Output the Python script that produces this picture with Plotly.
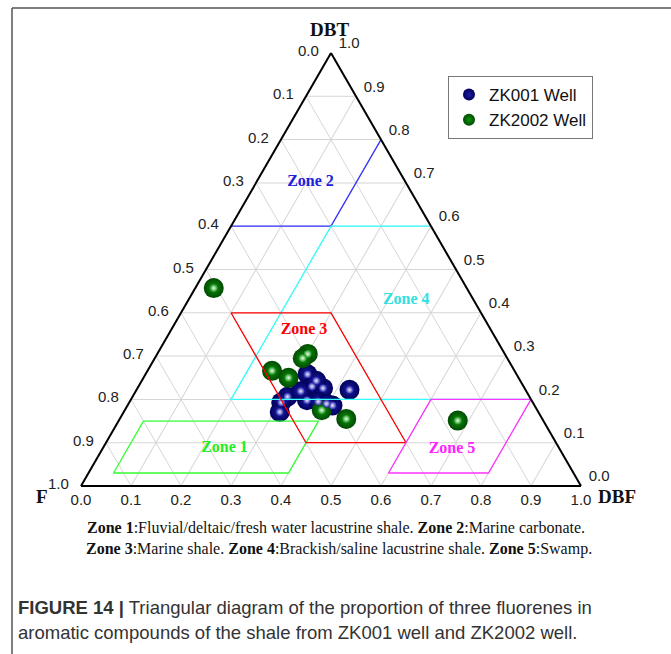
import plotly.graph_objects as go

# ---------------- data (fractions: DBT, F, DBF) ----------------
zk001_dbt = [0.258, 0.230, 0.226, 0.222, 0.206, 0.193, 0.198, 0.195, 0.186, 0.171, 0.190, 0.219, 0.243]
zk001_f   = [0.418, 0.423, 0.403, 0.352, 0.484, 0.503, 0.449, 0.428, 0.404, 0.517, 0.414, 0.451, 0.408]
zk001_dbf = [0.324, 0.347, 0.371, 0.426, 0.310, 0.304, 0.353, 0.377, 0.410, 0.312, 0.396, 0.330, 0.349]

zk2002_dbt = [0.457, 0.305, 0.295, 0.266, 0.250, 0.175, 0.155, 0.151]
zk2002_f   = [0.506, 0.394, 0.409, 0.485, 0.460, 0.431, 0.392, 0.171]
zk2002_dbf = [0.037, 0.301, 0.296, 0.249, 0.290, 0.394, 0.453, 0.678]

# zone boundaries (DBT, DBF; F = 1 - DBT - DBF)
zone1_dbt = [0.15, 0.15, 0.03, 0.03, 0.15]
zone1_dbf = [0.05, 0.40, 0.40, 0.05, 0.05]
zone2_dbt = [0.6, 0.6, 0.8]
zone2_dbf = [0.0, 0.2, 0.2]
zone3_dbt = [0.4, 0.4, 0.1, 0.1, 0.4]
zone3_dbf = [0.1, 0.3, 0.6, 0.4, 0.1]
zone4a_dbt = [0.6, 0.6]
zone4a_dbf = [0.4, 0.2]
zone4b_dbt = [0.6, 0.2, 0.2]
zone4b_dbf = [0.2, 0.2, 0.8]
zone5_dbt = [0.2, 0.2, 0.03, 0.03, 0.2]
zone5_dbf = [0.6, 0.8, 0.8, 0.6, 0.6]

zone_names = ["Zone 1", "Zone 2", "Zone 3", "Zone 4", "Zone 5"]
zone_label_dbt = [0.088, 0.702, 0.360, 0.429, 0.086]
zone_label_dbf = [0.243, 0.108, 0.266, 0.436, 0.699]

tick_vals = [i / 10 for i in range(11)]
tick_text = ["%.1f" % v for v in tick_vals]
tick_text_rev = tick_text[::-1]

# ---------------- figure ----------------
W, H = 671, 654
def px(x): return x / W
def py(y): return 1 - y / H

def fcomp(dbt, dbf):
    return [round(1 - a - c, 4) for a, c in zip(dbt, dbf)]

fig = go.Figure()

# wells (spheres: base + highlight)
fig.add_trace(go.Scatterternary(
    a=zk001_dbt, b=zk001_f, c=zk001_dbf, mode="markers", name="ZK001 Well",
    marker=dict(size=20, color="#00005a", gradient=dict(type="radial", color="#1e1eaa"),
                line=dict(width=0))))
fig.add_trace(go.Scatterternary(
    a=zk2002_dbt, b=zk2002_f, c=zk2002_dbf, mode="markers", name="ZK2002 Well",
    marker=dict(size=20, color="#004a00", gradient=dict(type="radial", color="#0f920f"),
                line=dict(width=0))))
fig.add_trace(go.Scatterternary(
    a=zk001_dbt, b=zk001_f, c=zk001_dbf, mode="markers", showlegend=False, hoverinfo="skip",
    marker=dict(size=8, color="#1e1eaa", gradient=dict(type="radial", color="#f0f0ff"),
                line=dict(width=0))))
fig.add_trace(go.Scatterternary(
    a=zk2002_dbt, b=zk2002_f, c=zk2002_dbf, mode="markers", showlegend=False, hoverinfo="skip",
    marker=dict(size=8, color="#0f920f", gradient=dict(type="radial", color="#f0fff0"),
                line=dict(width=0))))

# zones
zones = [
    (zone1_dbt, zone1_dbf, "#33ff33"),
    (zone2_dbt, zone2_dbf, "#3333ff"),
    (zone4a_dbt, zone4a_dbf, "#33ffff"),
    (zone4b_dbt, zone4b_dbf, "#33ffff"),
    (zone3_dbt, zone3_dbf, "#ff0000"),
    (zone5_dbt, zone5_dbf, "#ff33ff"),
]
for dbt, dbf, col in zones:
    fig.add_trace(go.Scatterternary(
        a=dbt, b=fcomp(dbt, dbf), c=dbf, mode="lines", showlegend=False, hoverinfo="skip",
        line=dict(color=col, width=1.3)))

label_colors = ["#22ee22", "#2020dd", "#ff0000", "#33e0e0", "#ff22ff"]
for name, a, c, col in zip(zone_names, zone_label_dbt, zone_label_dbf, label_colors):
    fig.add_trace(go.Scatterternary(
        a=[a], b=fcomp([a], [c]), c=[c], mode="text", text=["<b>%s</b>" % name],
        showlegend=False, hoverinfo="skip",
        textfont=dict(family="Liberation Serif", size=16, color=col)))

axis_common = dict(
    tickmode="array", tickvals=tick_vals, ticks="outside", ticklen=9,
    tickcolor="rgba(0,0,0,0)", showline=True, linecolor="black",
    linewidth=2, showgrid=True, gridcolor="#d6d6d6", gridwidth=1,
    tickfont=dict(family="Liberation Sans", size=15, color="#222"), title=dict(text=""),
)
b_axis = dict(axis_common, ticks="", ticklen=0)

fig.update_layout(
    width=W, height=H, margin=dict(l=0, r=0, t=0, b=0),
    paper_bgcolor="white", plot_bgcolor="white",
    ternary=dict(
        domain=dict(x=[px(81), px(581)], y=[py(486), py(53)]),
        bgcolor="white", sum=1,
        aaxis=dict(axis_common, ticktext=tick_text_rev),
        baxis=dict(b_axis, ticktext=tick_text_rev),
        caxis=dict(axis_common, ticktext=tick_text_rev),
    ),
    legend=dict(x=px(448), y=py(76), xanchor="left", yanchor="top",
                bgcolor="white", bordercolor="#777", borderwidth=1,
                font=dict(family="Liberation Sans", size=17, color="#111"),
                itemsizing="constant", tracegroupgap=0),
    showlegend=True,
)

def note(x, y, text, font, xanchor="center"):
    fig.add_annotation(x=px(x), y=py(y), xref="paper", yref="paper", text=text,
                       showarrow=False, font=font, xanchor=xanchor, yanchor="middle")

# corner titles
corner = dict(family="Liberation Serif", size=19, color="#111")
note(329, 30, "<b>DBT</b>", corner)
note(42, 496, "<b>F</b>", corner)
note(617, 496, "<b>DBF</b>", corner)

cap_font = dict(family="Liberation Serif", size=16, color="#111")
note(336, 527, "<b>Zone 1</b>:Fluvial/deltaic/fresh water lacustrine shale. <b>Zone 2</b>:Marine carbonate.", cap_font)
note(339, 549, "<b>Zone 3</b>:Marine shale. <b>Zone 4</b>:Brackish/saline lacustrine shale. <b>Zone 5</b>:Swamp.", cap_font)

fig_font = dict(family="Liberation Sans", size=18.5, color="#333")
note(16, 607, "<b>FIGURE 14 |</b> Triangular diagram of the proportion of three fluorenes in", fig_font, "left")
note(16, 632, "aromatic compounds of the shale from ZK001 well and ZK2002 well.", fig_font, "left")

# frame
fig.add_shape(type="line", xref="paper", yref="paper", x0=px(12), y0=py(8), x1=1.0, y1=py(8),
              line=dict(color="#555", width=1.5))
fig.add_shape(type="line", xref="paper", yref="paper", x0=px(12), y0=py(8), x1=px(12), y1=0.0,
              line=dict(color="#555", width=1.5))

fig.write_html("out.html", config={"displayModeBar": False},
               post_script="document.body.style.margin='0';document.body.style.overflow='hidden';")
